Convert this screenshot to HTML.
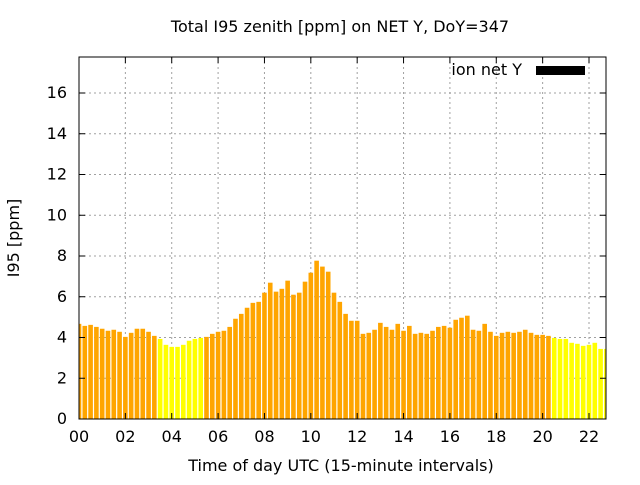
<!DOCTYPE html>
<html><head><meta charset="utf-8"><style>
body{margin:0;background:#fff;}
svg text{font-family:"DejaVu Sans","Liberation Sans",sans-serif;font-size:16px;fill:#000;}
</style></head><body>
<svg id="chart" width="640" height="480" viewBox="0 0 640 480" xmlns="http://www.w3.org/2000/svg">
<defs><clipPath id="pc"><rect x="79" y="57" width="527" height="362"/></clipPath></defs>
<text x="340" y="32" text-anchor="middle">Total I95 zenith [ppm] on NET Y, DoY=347</text>
<text x="341" y="471" text-anchor="middle">Time of day UTC (15-minute intervals)</text>
<text transform="translate(19,238) rotate(-90)" text-anchor="middle">I95 [ppm]</text>
<g id="grid"></g>
<g id="bars" clip-path="url(#pc)"></g>
<g id="axes"></g>
<text x="522" y="75" text-anchor="end">ion net Y</text>
<rect x="536" y="66" width="49" height="9" fill="#000"/>
</svg>
<script>
const values=[4.67,4.57,4.62,4.52,4.43,4.33,4.38,4.28,4.03,4.23,4.43,4.43,4.28,4.08,3.93,3.64,3.54,3.54,3.64,3.84,3.93,3.98,4.03,4.18,4.28,4.33,4.52,4.92,5.16,5.46,5.70,5.75,6.20,6.69,6.25,6.39,6.79,6.10,6.20,6.74,7.18,7.77,7.48,7.23,6.20,5.75,5.16,4.82,4.82,4.18,4.23,4.38,4.72,4.52,4.38,4.67,4.33,4.57,4.18,4.23,4.18,4.33,4.52,4.57,4.48,4.87,4.97,5.07,4.38,4.33,4.67,4.28,4.08,4.23,4.28,4.23,4.28,4.38,4.23,4.13,4.13,4.08,3.98,3.93,3.93,3.74,3.69,3.59,3.64,3.74,3.44,3.44];
const highlight=[14,15,16,17,18,19,20,21,82,83,84,85,86,87,88,89,90,91];
const yTicks=[0,2,4,6,8,10,12,14,16];
const xTicks=[0,2,4,6,8,10,12,14,16,18,20,22];
const xTickLabels=["00","02","04","06","08","10","12","14","16","18","20","22"];
const NS="http://www.w3.org/2000/svg";
const L=79,R=606,T=57,B=419;
const x=h=>L+h*(589-79)/22;
const y=v=>B-v*(419-93)/16;
function mk(tag,attrs,parent){const e=document.createElementNS(NS,tag);for(const k in attrs)e.setAttribute(k,attrs[k]);document.getElementById(parent).appendChild(e);return e;}
yTicks.forEach(v=>{
 if(v>0){const g=mk('line',{x1:L,x2:R,y1:y(v),y2:y(v),stroke:'#a0a0a0','stroke-dasharray':'2,3'},'grid');
 
 }
 const t=mk('line',{x1:L,x2:L+6,y1:y(v),y2:y(v),stroke:'#000'},'axes');
 
 
 const t2=mk('line',{x1:R-6,x2:R,y1:y(v),y2:y(v),stroke:'#000'},'axes');
 
 
 const lb=mk('text',{x:L-12,y:y(v)+5,'text-anchor':'end'},'axes');lb.textContent=v;
 
 
});
xTicks.forEach((h,i)=>{
 if(h>0){const g=mk('line',{x1:x(h),x2:x(h),y1:T,y2:B,stroke:'#a0a0a0','stroke-dasharray':'2,3'},'grid');
 
 }
 const t=mk('line',{x1:x(h),x2:x(h),y1:B,y2:B-6,stroke:'#000'},'axes');
 
 
 const t2=mk('line',{x1:x(h),x2:x(h),y1:T,y2:T+6,stroke:'#000'},'axes');
 
 
 const lb=mk('text',{x:x(h),y:442,'text-anchor':'middle'},'axes');lb.textContent=xTickLabels[i];
 
 
});
values.forEach((v,i)=>{
 const cx=x(i*0.25),w=4.6;
 const b=mk('rect',{x:cx-w/2,y:y(v),width:w,height:B-y(v),fill:highlight.includes(i)?'#ffff00':'#ffa500'},'bars');
 
 
});
const fr=mk('rect',{x:L,y:T,width:R-L,height:B-T,fill:'none',stroke:'#000','stroke-width':1},'axes');


</script>
</body></html>
